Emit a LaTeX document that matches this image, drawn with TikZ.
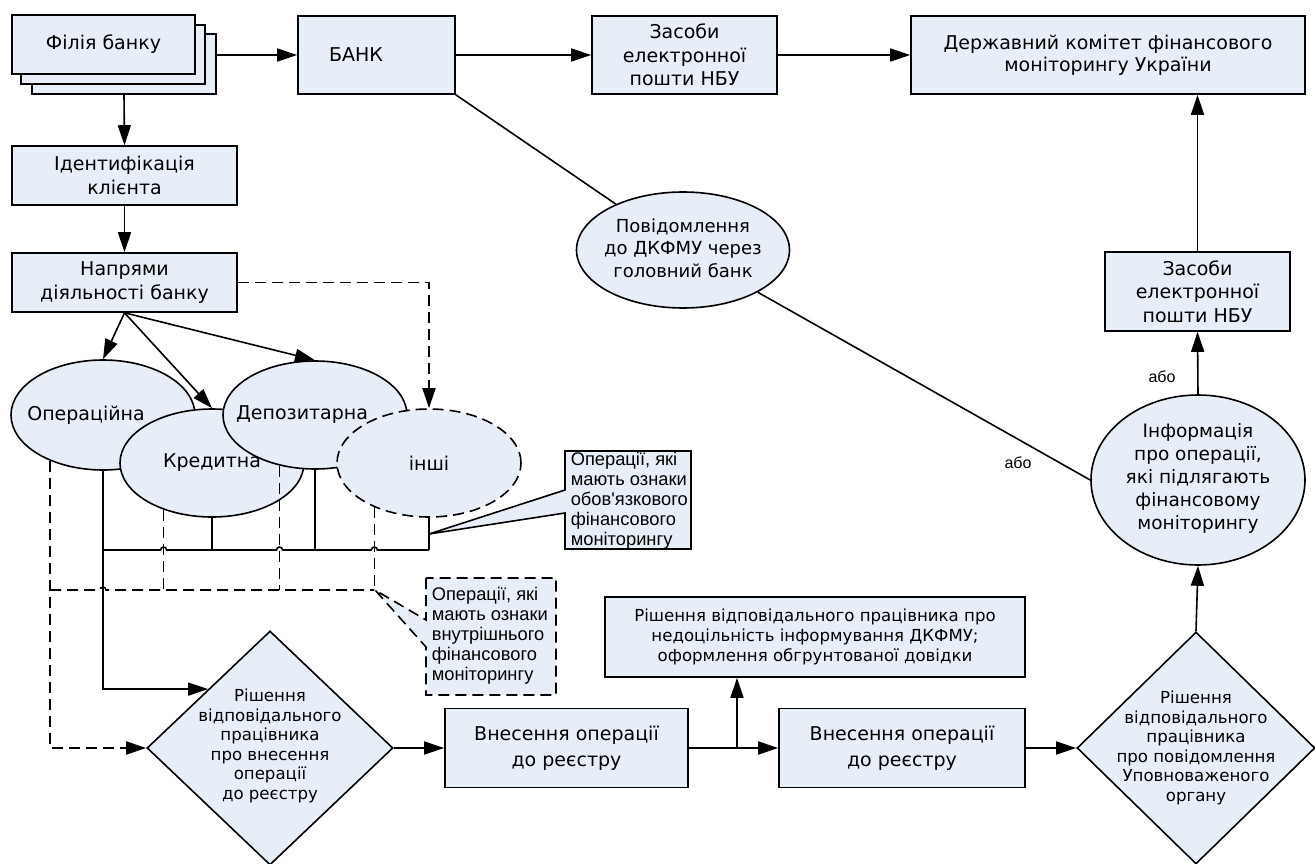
\documentclass[tikz,border=0pt]{standalone}
\usepackage{fontspec}
\setmainfont{DejaVu Sans}
\newfontfamily\notefont{Liberation Sans}[Ligatures=TeXOff]
\usetikzlibrary{arrows.meta,shapes.geometric,calc}
\definecolor{shapefill}{RGB}{232,238,247}
\begin{document}
\begin{tikzpicture}[x=1pt,y=-1pt,line width=1.6pt,
  blk/.style={draw,fill=shapefill,inner sep=0pt,align=center,font=\fontsize{19}{23.5}\selectfont},
  oval/.style={ellipse,draw,fill=shapefill,inner sep=0pt},
  rhomb/.style={diamond,draw,fill=shapefill,inner sep=0pt},
  txt/.style={align=center,inner sep=0pt,font=\fontsize{19}{23}\selectfont},
  smalltxt/.style={align=center,inner sep=0pt,font=\fontsize{16.6}{19.6}\selectfont},
  note/.style={align=left,inner sep=0pt,font=\notefont\fontsize{18.3}{20}\selectfont},
  tag/.style={inner sep=0pt,font=\notefont\fontsize{16}{18}\selectfont},
  arr/.style={-{Triangle[length=20pt,width=13pt]}},
  dsh/.style={dash pattern=on 11pt off 6pt},
]
\useasboundingbox (0,0) rectangle (1315,864);

% stacked branch boxes
\node[blk,minimum width=184pt,minimum height=60pt] (f3) at (124,64) {};
\node[blk,minimum width=184pt,minimum height=59pt] (f2) at (113,54.5) {};
\node[blk,minimum width=183pt,minimum height=59pt] (f1) at (103.5,44.5) {Філія банку};

% top row
\node[blk,minimum width=157pt,minimum height=78pt] (bank) at (376.5,55) {};
\node[txt] (banktext) at (356,55) {БАНК};
\node[blk,minimum width=185pt,minimum height=78pt] (zas1) at (684.5,55) {Засоби\\електронної\\пошти НБУ};
\node[blk,minimum width=394pt,minimum height=78pt,font=\fontsize{19}{22}\selectfont] (dkfmu) at (1108,55) {Державний комітет фінансового\\моніторингу України};

% left column
\node[blk,minimum width=225pt,minimum height=59pt] (ident) at (124.5,175.5) {Ідентифікація\\клієнта};
\node[blk,minimum width=225pt,minimum height=59pt] (napr) at (124.5,282.5) {Напрями\\діяльності банку};

% business lines
\node[oval,minimum width=184pt,minimum height=110pt] (opr) at (103,415) {};
\node[txt] (oprtext) at (86,415) {Операційна};
\node[oval,minimum width=184pt,minimum height=108pt] (kred) at (212,463) {};
\node[txt] (kredtext) at (212,463) {Кредитна};
\node[oval,minimum width=184pt,minimum height=108pt] (depo) at (315,415) {};
\node[txt] (depotext) at (302,415) {Депозитарна};
\node[oval,dsh,minimum width=184pt,minimum height=108pt] (inshi) at (429,463) {};
\node[txt] (inshitext) at (429,463) {інші};

% messages
\node[oval,minimum width=213pt,minimum height=116pt] (povid) at (683,250) {};
\node[txt,font=\fontsize{18}{22.5}\selectfont] (povidtext) at (683,248) {Повідомлення\\до ДКФМУ через\\головний банк};
\node[oval,minimum width=214pt,minimum height=170pt] (info) at (1198,480) {};
\node[txt,font=\fontsize{18.5}{23}\selectfont] (infotext) at (1198,478) {Інформація\\про операції,\\які підлягають\\фінансовому\\моніторингу};
\node[blk,minimum width=185pt,minimum height=79pt] (zas2) at (1197.5,291.5) {Засоби\\електронної\\пошти НБУ};

% bottom row
\node[rhomb,minimum width=246pt,minimum height=234pt] (d1) at (270,748) {};
\node[smalltxt] (d1text) at (270,746) {Рішення\\відповідального\\працівника\\про внесення\\операції\\до реєстру};
\node[blk,minimum width=243pt,minimum height=79pt,font=\fontsize{19}{26}\selectfont] (vn1) at (566.5,748) {Внесення операції\\до реєстру};
\node[blk,minimum width=246pt,minimum height=79pt,font=\fontsize{19}{26}\selectfont] (vn2) at (902,748) {Внесення операції\\до реєстру};
\node[blk,minimum width=420pt,minimum height=80pt,font=\fontsize{16.6}{20}\selectfont] (rish) at (815,637) {Рішення відповідального працівника про\\недоцільність інформування ДКФМУ;\\оформлення обгрунтованої довідки};
\node[rhomb,minimum width=238pt,minimum height=232pt] (d2) at (1196,748) {};
\node[smalltxt] (d2text) at (1196,748) {Рішення\\відповідального\\працівника\\про повідомлення\\Уповноваженого\\органу};

% connectors, top part
\draw[arr] (f3.east |- bank.west) -- (bank.west);
\draw[arr] (bank.east) -- (zas1.west);
\draw[arr] (zas1.east) -- (dkfmu.west);
\draw[arr] (f3.south) -- (ident.north);
\draw[arr] (ident.south) -- (napr.north);
\draw[arr] (napr.south) -- (opr.north);
\draw[arr] (napr.south) -- (kred.north);
\draw[arr] (napr.south) -- (depo.north);
\draw[arr,dsh] (napr.east) -| (inshi.north);
\draw (bank.south east) -- (povid);
\draw (povid) -- (info.west);
\node[tag] (or1) at (1018,463) {або};

% collecting lines under the business lines
\coordinate (bus) at (0,550);
\coordinate (dline) at (0,590);
\draw (kred.south) -- (kred.south |- bus);
\draw (depo.south) -- (depo.south |- bus);
\draw (inshi.south) -- (inshi.south |- bus);
\draw[dsh] (kred.224) -- (kred.224 |- dline);
\draw[dsh] (depo.235) -- (depo.235 |- dline);
\draw[dsh] (inshi.219) -- (inshi.219 |- dline);
\draw (opr.south |- bus) -- ($(kred.224 |- bus)+(-3,0)$) arc[start angle=180,end angle=0,radius=3pt]
  -- ($(depo.235 |- bus)+(-3,0)$) arc[start angle=180,end angle=0,radius=3pt]
  -- ($(inshi.219 |- bus)+(-3,0)$) arc[start angle=180,end angle=0,radius=3pt]
  -- (inshi.south |- bus);
\draw[dsh] (opr.221 |- dline) -- ($(opr.south |- dline)+(-3,0)$) arc[start angle=180,end angle=0,radius=3pt]
  -- (inshi.219 |- dline);
\draw[arr] (opr.south) |- (d1.north west);
\draw[arr,dsh] (opr.221) |- (d1.west);

% callouts
\draw[fill=shapefill] (565,451) -- (565,490) -- (429,534) -- (565,513) -- (565,549) -- (691,549) -- (691,451) -- cycle;
\node[note,anchor=west] (note1) at (570,501) {Операції, які\\мають ознаки\\обов\symbol{39}язкового\\фінансового\\моніторингу};
\draw[dsh,fill=shapefill] (426,578) -- (426,620) -- (375,590) -- (426,647) -- (426,695) -- (556,695) -- (556,578) -- cycle;
\node[note,anchor=west] (note2) at (431,636) {Операції, які\\мають ознаки\\внутрішнього\\фінансового\\моніторингу};

% connectors, bottom part
\draw[arr] (d1.east) -- (vn1.west);
\coordinate (split) at (737,748);
\draw[arr] (vn1.east) -- (vn2.west);
\draw[arr] (split) -- (split |- rish.south);
\draw[arr] (vn2.east) -- (d2.west);
\draw[arr] (d2.north) -- (info.south);
\draw[arr] (info.north) -- (zas2.south);
\node[tag] (or2) at (1162,377) {або};
\draw[arr] (zas2.north) -- (zas2.north |- dkfmu.south);
\end{tikzpicture}
\end{document}
